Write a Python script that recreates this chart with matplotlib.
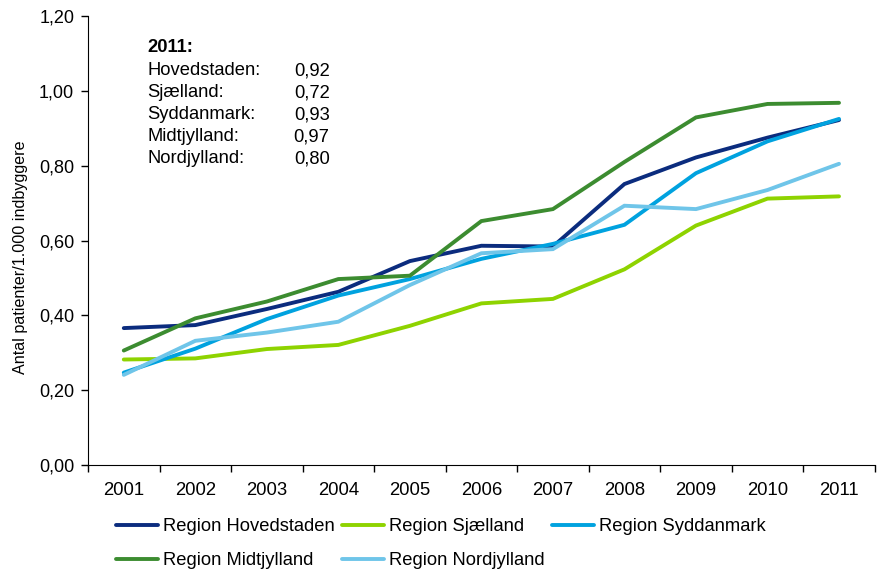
import numpy as np
import matplotlib
matplotlib.use("Agg")
import matplotlib.pyplot as plt
from matplotlib.ticker import FuncFormatter, FixedLocator

plt.rcParams['font.family'] = ['Liberation Sans', 'DejaVu Sans']

years = ['2001', '2002', '2003', '2004', '2005', '2006', '2007', '2008', '2009', '2010', '2011']

hovedstaden = [0.366, 0.374, 0.417, 0.463, 0.545, 0.586, 0.584, 0.751, 0.822, 0.875, 0.922]
sjaelland = [0.282, 0.285, 0.310, 0.321, 0.372, 0.432, 0.444, 0.523, 0.640, 0.712, 0.718]
syddanmark = [0.247, 0.311, 0.390, 0.453, 0.497, 0.551, 0.591, 0.642, 0.780, 0.865, 0.925]
midtjylland = [0.306, 0.392, 0.437, 0.497, 0.506, 0.652, 0.684, 0.810, 0.929, 0.965, 0.968]
nordjylland = [0.241, 0.332, 0.354, 0.383, 0.481, 0.566, 0.577, 0.693, 0.684, 0.735, 0.805]

series_names = ['Region Hovedstaden', 'Region Sjælland', 'Region Syddanmark',
                'Region Midtjylland', 'Region Nordjylland']
colors = ['#0B2C7E', '#8ED300', '#00A2DF', '#3C8C30', '#6FC5E9']

note_title = '2011:'
note_labels = ['Hovedstaden:', 'Sjælland:', 'Syddanmark:', 'Midtjylland:', 'Nordjylland:']
note_values = ['0,92', '0,72', '0,93', '0,97', '0,80']

fig = plt.figure(figsize=(8.82, 5.72), dpi=100)
ax = fig.add_axes([0.0998, 0.187, 0.892, 0.785])

x = np.arange(len(years))
all_series = [hovedstaden, sjaelland, syddanmark, midtjylland, nordjylland]
lines = []
for vals, name, c in zip(all_series, series_names, colors):
    ln, = ax.plot(x, vals, color=c, lw=2.8, label=name, solid_capstyle='round', solid_joinstyle='miter')
    lines.append(ln)

ax.set_xlim(-0.5, len(years) - 0.5)
ax.set_ylim(0, 1.2)
ax.set_yticks(np.arange(0, 1.21, 0.2))
ax.yaxis.set_major_formatter(FuncFormatter(lambda v, p: f'{v:.2f}'.replace('.', ',')))
ax.set_xticks(x)
ax.set_xticklabels(years)
ax.xaxis.set_minor_locator(FixedLocator(np.arange(-0.5, len(years), 1.0)))
ax.tick_params(axis='x', which='major', length=0, labelsize=13.3, pad=12)
ax.tick_params(axis='x', which='minor', length=5, direction='out', width=1)
ax.tick_params(axis='y', length=5, direction='out', labelsize=13, width=1, pad=5)
ax.spines['top'].set_visible(False)
ax.spines['right'].set_visible(False)
ax.set_ylabel('Antal patienter/1.000 indbyggere', fontsize=11.6)
ax.yaxis.set_label_coords(-0.076, 0.463)

# 2011 note
fs = 13.2
ax.text(0.075, 0.929, note_title, transform=ax.transAxes, fontsize=fs, fontweight='bold', va='center')
for i, (lab, val) in enumerate(zip(note_labels, note_values)):
    yy = 0.878 - i * 0.049
    ax.text(0.075, yy, lab, transform=ax.transAxes, fontsize=fs, va='center')
    ax.text(0.307, yy, val, transform=ax.transAxes, fontsize=fs, va='center', ha='right')

order = [0, 3, 1, 4, 2]
fig.legend([lines[i] for i in order], [series_names[i] for i in order],
           ncol=3, loc='lower left', bbox_to_anchor=(0.118, -0.016), frameon=False,
           fontsize=13.2, handlelength=2.3, handletextpad=0.27, columnspacing=0.4,
           labelspacing=0.93, borderaxespad=0.25)

fig.savefig('out.png', dpi=100)
